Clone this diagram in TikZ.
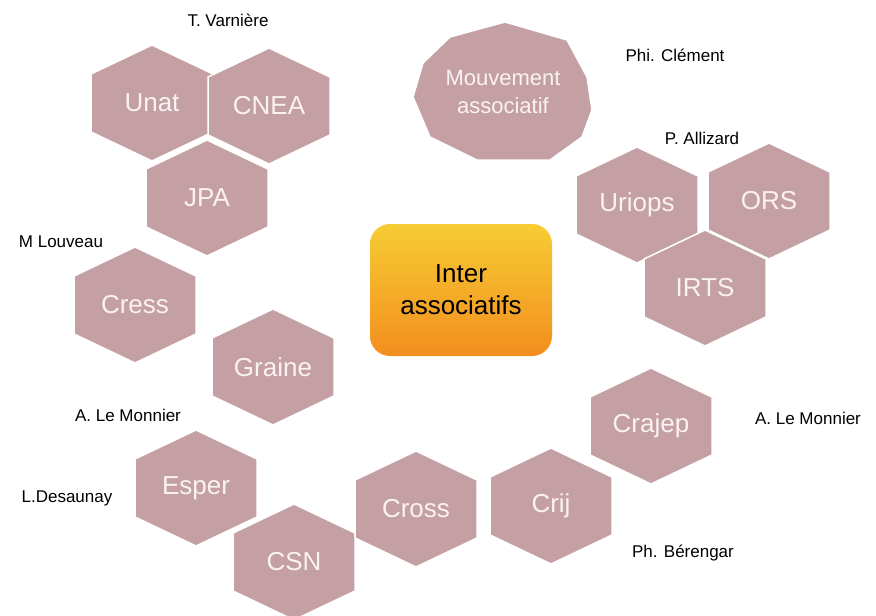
\documentclass[tikz,border=0pt]{standalone}
\usepackage{fontspec}
\setmainfont{Liberation Sans}
\usepackage{tikz}

\definecolor{mauve}{RGB}{196,160,164}
\definecolor{paletext}{RGB}{250,242,242}
\definecolor{boxtop}{RGB}{247,204,52}
\definecolor{boxbottom}{RGB}{242,142,30}

\tikzset{
	hexa/.style={fill=mauve, draw=white, line width=1.5pt},
	hextext/.style={text=paletext, font=\fontsize{26}{30}\selectfont},
	who/.style={black, font=\fontsize{17}{20}\selectfont}
}

\begin{document}
\begin{tikzpicture}[x=1pt,y=-1pt]

	\useasboundingbox (0,0) rectangle (876,616);

	% hexagones
	\foreach \x/\y/\nm/\txt in {152/103/unat/Unat, 269/106/cnea/CNEA, 207/198/jpa/JPA,
		637/205/uriops/Uriops, 769/201/ors/ORS, 705/288/irts/IRTS,
		135/305/cress/Cress, 273/367/graine/Graine, 651/426/crajep/Crajep,
		196/488/esper/Esper, 294/562/csn/CSN, 416/509/cross/Cross, 551/506/crij/Crij}
	{
		\path[hexa, shift={(\x,\y)}] (0,-58) -- (61,-29) -- (61,29) -- (0,58)
			-- (-61,29) -- (-61,-29) -- cycle;
		\node [name=\nm, hextext] at (\x,\y) {\txt};
	}

	% mouvement
	\path[hexa] (505,22) -- (567,40) -- (587,77) -- (592,110) -- (582,137) -- (550,160)
		-- (477,160) -- (430,137) -- (413,97) -- (423,63) -- (450,37) -- cycle;
	\node [name=mvt, hextext, align=center, font=\fontsize{22}{28}\selectfont] at (503,92) {Mouvement\\associatif};

	% centre
	\node [name=inter, rounded corners=20pt, top color=boxtop, bottom color=boxbottom,
		minimum width=182pt, minimum height=132pt, align=center,
		font=\fontsize{26}{32}\selectfont] at (461,290) {Inter\\associatifs};

	% noms
	\node [name=varniere, who] at (228,20) {T. Varnière};
	\node [name=clement, who] at (675,55) {Phi. Clément};
	\node [name=allizard, who] at (702,138) {P. Allizard};
	\node [name=louveau, who] at (61,242) {M Louveau};
	\node [name=monnier1, who] at (128,415) {A. Le Monnier};
	\node [name=desaunay, who] at (67,498) {L.Desaunay};
	\node [name=monnier2, who] at (808,418) {A. Le Monnier};
	\node [name=berengar, who] at (683,553) {Ph. Bérengar};

\end{tikzpicture}
\end{document}
